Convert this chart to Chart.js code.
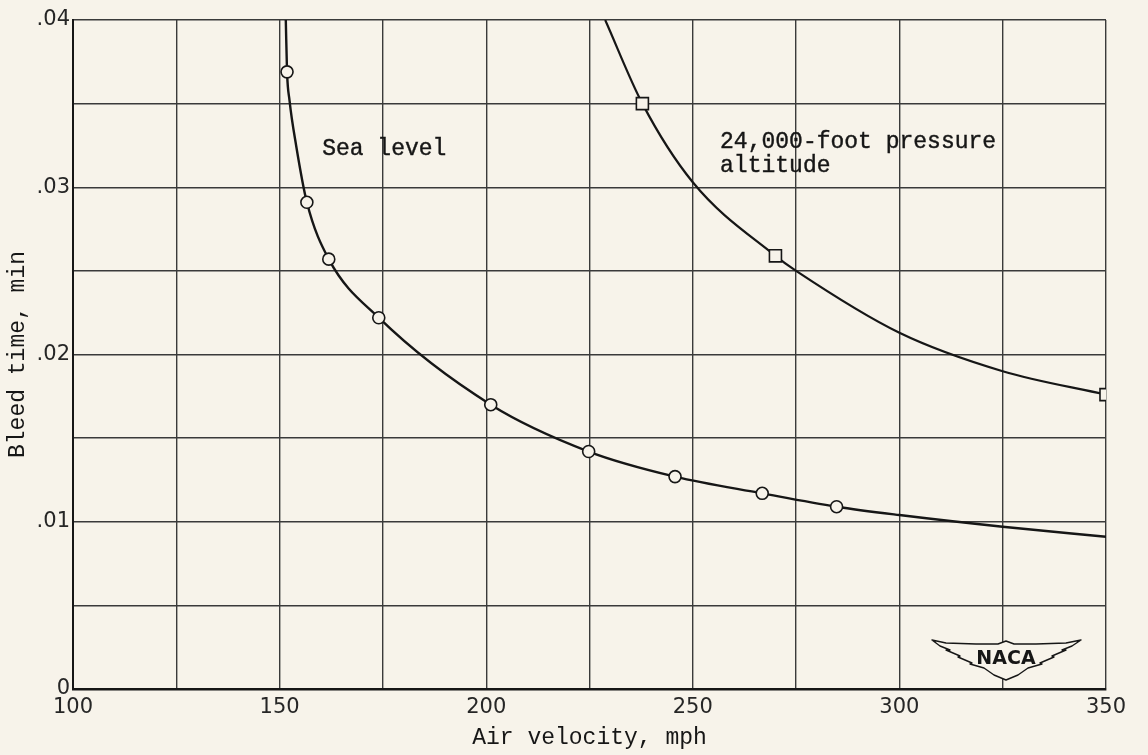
<!DOCTYPE html>
<html lang="en">
<head>
    <meta charset="UTF-8">
    <title>Bleed time vs air velocity</title>
    <style>
        html, body {
            margin: 0;
            padding: 0;
            background-color: #f7f3ea;
        }

        #wrap {
            width: 1148px;
            height: 755px;
        }
    </style>
</head>
<body>
    <div id="wrap"><canvas id="bleedChart"></canvas></div>

    <script src="https://cdn.jsdelivr.net/npm/chart.js@4.4.3/dist/chart.umd.min.js"></script>
    <script>
        // faired curves (mph, min)
        const seaCurveX = [151.5, 151.8, 152.4, 154.0, 156.6, 161.9, 174.0, 201.1, 224.8, 245.7, 266.8, 284.8, 300, 325, 350];
        const seaCurveY = [0.0400, 0.0369, 0.0352, 0.0325, 0.0291, 0.0257, 0.0222, 0.0170, 0.0142, 0.0127, 0.0117, 0.0109, 0.0104, 0.0097, 0.0091];
        const altCurveX = [228.8, 237.8, 250, 270, 275, 300, 325, 350];
        const altCurveY = [0.0400, 0.0350, 0.0303, 0.0259, 0.0250, 0.0213, 0.0190, 0.0176];

        // test points
        const seaPointsX = [151.8, 156.6, 161.9, 174.0, 201.1, 224.8, 245.7, 266.8, 284.8];
        const seaPointsY = [0.0369, 0.0291, 0.0257, 0.0222, 0.0170, 0.0142, 0.0127, 0.0117, 0.0109];
        const altPointsX = [237.8, 270, 350];
        const altPointsY = [0.0350, 0.0259, 0.0176];

        // labels written on the grid
        const noteTexts = ['Sea level', '24,000-foot pressure', 'altitude'];
        const noteX = [160.3, 256.6, 256.6];
        const noteY = [0.0323, 0.0327, 0.0313];

        const xLabelEvery = 50;
        const yLabelEvery = 0.01;

        const ink = '#161616';
        const gridInk = '#3a3a3a';
        const paper = '#f7f3ea';
        const typeFont = '"Liberation Mono", "Courier New", monospace';
        const tickFont = '"DejaVu Sans", sans-serif';

        function toPoints(xs, ys) {
            return xs.map((x, i) => ({ x: x, y: ys[i] }));
        }

        const notesPlugin = {
            id: 'notes',
            afterDatasetsDraw(chart) {
                const ctx = chart.ctx;
                const xs = chart.scales.x;
                const ys = chart.scales.y;
                ctx.save();
                ctx.fillStyle = ink;
                ctx.strokeStyle = ink;
                ctx.lineWidth = 0.4;
                ctx.font = '23px ' + typeFont;
                ctx.textAlign = 'left';
                ctx.textBaseline = 'middle';
                noteTexts.forEach((t, i) => {
                    const px = xs.getPixelForValue(noteX[i]);
                    const py = ys.getPixelForValue(noteY[i]);
                    ctx.fillText(t, px, py);
                    ctx.strokeText(t, px, py);
                });
                ctx.restore();
            }
        };

        // little NACA wings badge in the lower right corner
        const badgePlugin = {
            id: 'badge',
            afterDraw(chart) {
                const ctx = chart.ctx;
                const area = chart.chartArea;
                const cx = area.right - 100;
                const cy = area.bottom - 31;
                const wing = [
                    [-74, -18], [-60, -15], [-30, -14], [-8, -14], [0, -17], [8, -14], [30, -14], [60, -15], [75, -18],
                    [66, -12], [56, -8], [60, -8], [46, -2], [48, -1], [34, 5], [36, 6], [22, 10], [12, 17], [0, 22],
                    [-12, 17], [-22, 10], [-36, 6], [-34, 5], [-48, -1], [-46, -2], [-60, -8], [-56, -8], [-66, -12]
                ];
                ctx.save();
                ctx.beginPath();
                wing.forEach((p, i) => {
                    if (i === 0) ctx.moveTo(cx + p[0], cy + p[1]);
                    else ctx.lineTo(cx + p[0], cy + p[1]);
                });
                ctx.closePath();
                ctx.fillStyle = paper;
                ctx.fill();
                ctx.strokeStyle = ink;
                ctx.lineWidth = 1.4;
                ctx.lineJoin = 'round';
                ctx.stroke();
                ctx.fillStyle = ink;
                ctx.font = 'bold 19px ' + tickFont;
                ctx.textAlign = 'center';
                ctx.textBaseline = 'middle';
                ctx.fillText('NACA', cx, cy + 1);
                ctx.restore();
            }
        };

        new Chart(document.getElementById('bleedChart'), {
            type: 'scatter',
            data: {
                datasets: [
                    {
                        label: 'Sea level points',
                        data: toPoints(seaPointsX, seaPointsY),
                        pointStyle: 'circle',
                        pointRadius: 6,
                        backgroundColor: paper,
                        borderColor: ink,
                        borderWidth: 1.6,
                        order: 0
                    },
                    {
                        label: '24,000 ft points',
                        data: toPoints(altPointsX, altPointsY),
                        pointStyle: 'rect',
                        pointRadius: 8.5,
                        backgroundColor: paper,
                        borderColor: ink,
                        borderWidth: 1.6,
                        order: 0
                    },
                    {
                        label: 'Sea level',
                        type: 'line',
                        data: toPoints(seaCurveX, seaCurveY),
                        showLine: true,
                        pointRadius: 0,
                        borderColor: ink,
                        borderWidth: 2.4,
                        cubicInterpolationMode: 'monotone',
                        fill: false,
                        order: 1
                    },
                    {
                        label: '24,000-foot pressure altitude',
                        type: 'line',
                        data: toPoints(altCurveX, altCurveY),
                        showLine: true,
                        pointRadius: 0,
                        borderColor: ink,
                        borderWidth: 2.2,
                        cubicInterpolationMode: 'monotone',
                        fill: false,
                        order: 1
                    }
                ]
            },
            options: {
                responsive: true,
                maintainAspectRatio: false,
                animation: false,
                layout: { padding: { top: 20, right: 42, left: 0, bottom: 0 } },
                plugins: {
                    legend: { display: false },
                    tooltip: { enabled: false }
                },
                scales: {
                    x: {
                        type: 'linear',
                        min: 100,
                        max: 350,
                        afterFit: scale => { scale.height = 66; },
                        grid: { color: gridInk, lineWidth: 1.4, drawTicks: false },
                        border: { color: ink, width: 2.6 },
                        ticks: {
                            stepSize: 25,
                            padding: 6,
                            color: '#262626',
                            font: { family: tickFont, size: 21 },
                            maxRotation: 0,
                            autoSkip: false,
                            callback: v => (v % xLabelEvery === 0 ? String(v) : '')
                        },
                        title: {
                            display: true,
                            text: 'Air velocity, mph',
                            color: ink,
                            font: { family: typeFont, size: 23 },
                            padding: { top: 0, bottom: 3 }
                        }
                    },
                    y: {
                        min: 0,
                        max: 0.04,
                        afterFit: scale => { scale.width = 73; },
                        grid: { color: gridInk, lineWidth: 1.4, drawTicks: false },
                        border: { color: ink, width: 2 },
                        ticks: {
                            stepSize: 0.005,
                            padding: 3,
                            color: '#262626',
                            font: { family: tickFont, size: 21 },
                            autoSkip: false,
                            callback: v => {
                                const thousandths = Math.round(v * 1000);
                                if (thousandths % Math.round(yLabelEvery * 1000) !== 0) return '';
                                if (thousandths === 0) return '0';
                                return '.0' + (thousandths / 10);
                            }
                        },
                        title: {
                            display: true,
                            text: 'Bleed time, min',
                            color: ink,
                            font: { family: typeFont, size: 23 },
                            padding: { top: 4, bottom: 0 }
                        }
                    }
                }
            },
            plugins: [notesPlugin, badgePlugin]
        });
    </script>
</body>
</html>
